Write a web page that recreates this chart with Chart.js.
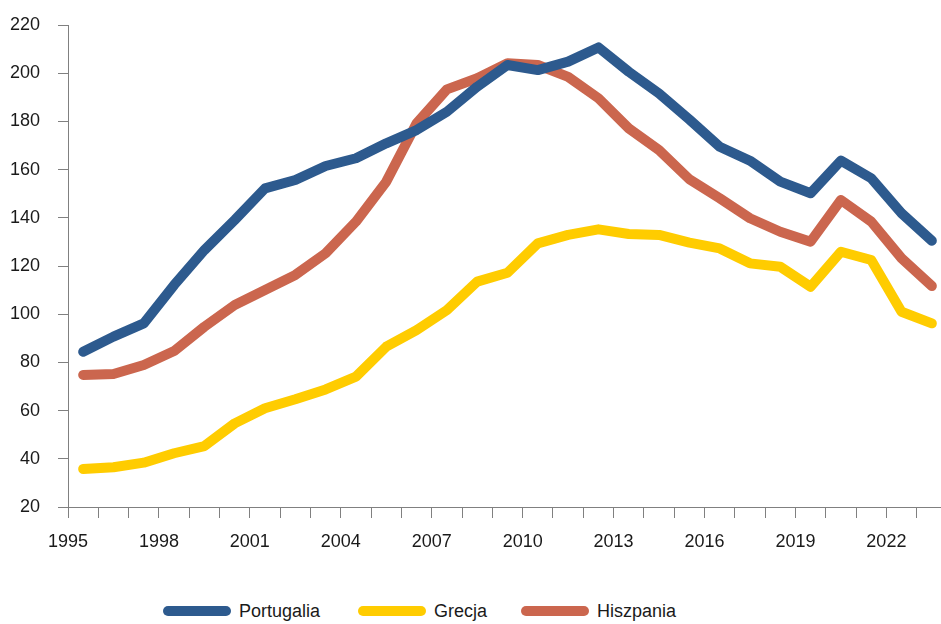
<!DOCTYPE html>
<html>
<head>
<meta charset="utf-8">
<script src="https://cdn.jsdelivr.net/npm/chart.js@4.4.0/dist/chart.umd.min.js"></script>
<style>
  html, body { margin: 0; padding: 0; background: #fff; }
  #wrap { position: relative; width: 941px; height: 624px; overflow: hidden; }
  #chart { position: absolute; left: 0; top: 0; }
  .legend-item { position: absolute; top: 599px; display: flex; align-items: center; height: 24px;
    font-family: 'Liberation Sans Narrow', 'Liberation Sans', Arial, sans-serif; font-size: 18px; color: #1a1a1a; }
  .legend-line { display: inline-block; width: 68px; height: 10px; border-radius: 5px; margin-right: 8px; }
</style>
</head>
<body>
<div id="wrap">
  <canvas id="chart" width="960" height="560"></canvas>
</div>
<script>
// Lata (wartości na środku roku) i serie
const lata = [1995, 1996, 1997, 1998, 1999, 2000, 2001, 2002, 2003, 2004, 2005, 2006, 2007, 2008, 2009,
              2010, 2011, 2012, 2013, 2014, 2015, 2016, 2017, 2018, 2019, 2020, 2021, 2022, 2023];
const portugalia = [84.4, 90.7, 96.2, 112.1, 126.6, 139.1, 152.2, 155.7, 161.5, 164.7, 170.9, 176.4, 184.0, 194.4, 203.4,
                    201.3, 204.8, 210.7, 200.6, 191.6, 180.8, 169.5, 163.7, 155.0, 150.2, 163.7, 156.4, 141.9, 130.5];
const grecja = [35.8, 36.5, 38.4, 42.3, 45.3, 54.7, 61.0, 64.7, 68.8, 74.1, 86.5, 93.4, 101.7, 113.5, 117.2,
                129.4, 132.9, 135.2, 133.3, 132.9, 129.7, 127.3, 121.1, 119.7, 111.4, 125.9, 122.5, 101.0, 96.2];
const hiszpania = [74.8, 75.2, 78.9, 84.7, 94.8, 103.8, 110.0, 116.3, 125.3, 138.4, 155.0, 179.2, 193.3, 197.9, 204.1,
                   203.4, 198.5, 189.6, 177.1, 168.1, 156.0, 148.1, 139.8, 134.2, 130.1, 147.4, 138.4, 123.2, 111.7];
const nazwy = ['Portugalia', 'Grecja', 'Hiszpania'];
const kolory = ['#2D5A8E', '#FFCC00', '#CB664E'];
const legendaX = [163, 358, 521];

const FONT = "'Liberation Sans Narrow', 'Liberation Sans', Arial, sans-serif";
const szary = '#808080';

function punkty(vals) {
    // punkt rysowany w połowie roku
    return lata.map((r, i) => ({ x: r + 0.5, y: vals[i] }));
}

const serie = [portugalia, grecja, hiszpania];

const chart = new Chart(document.getElementById('chart'), {
    type: 'line',
    data: {
        datasets: serie.map((s, i) => ({
            label: nazwy[i],
            data: punkty(s),
            borderColor: kolory[i],
            backgroundColor: kolory[i],
            borderWidth: 10,
            borderCapStyle: 'round',
            borderJoinStyle: 'round',
            pointRadius: 0,
            tension: 0,
            fill: false
        }))
    },
    options: {
        responsive: false,
        animation: false,
        devicePixelRatio: 1,
        layout: { padding: { top: 25, right: 12, left: 0, bottom: 0 } },
        plugins: { legend: { display: false }, tooltip: { enabled: false } },
        scales: {
            x: {
                type: 'linear',
                min: 1995,
                max: 2024,
                afterFit: (scale) => { scale.height = 53; },
                border: { color: szary, width: 1 },
                grid: { drawOnChartArea: false, drawTicks: true, tickLength: 11, color: szary },
                ticks: {
                    stepSize: 1,
                    autoSkip: false,
                    maxRotation: 0,
                    padding: 13,
                    color: '#1a1a1a',
                    font: { family: FONT, size: 18 },
                    callback: (v) => ((v - 1995) % 3 === 0 ? String(v) : '')
                }
            },
            y: {
                min: 20,
                max: 220,
                afterFit: (scale) => {
                    scale.width = 68;
                    scale.paddingTop = 0;
                    scale.paddingBottom = 0;
                },
                border: { color: szary, width: 1 },
                grid: { drawOnChartArea: false, drawTicks: true, tickLength: 10, color: szary },
                ticks: {
                    stepSize: 20,
                    padding: 18,
                    color: '#1a1a1a',
                    font: { family: FONT, size: 18 }
                }
            }
        }
    }
});

// legenda
const wrap = document.getElementById('wrap');
chart.data.datasets.forEach((ds, i) => {
    const item = document.createElement('div');
    item.className = 'legend-item';
    item.style.left = legendaX[i] + 'px';
    item.innerHTML = '<span class="legend-line" style="background:' + ds.borderColor + '"></span>' + ds.label;
    wrap.appendChild(item);
});
</script>
</body>
</html>
